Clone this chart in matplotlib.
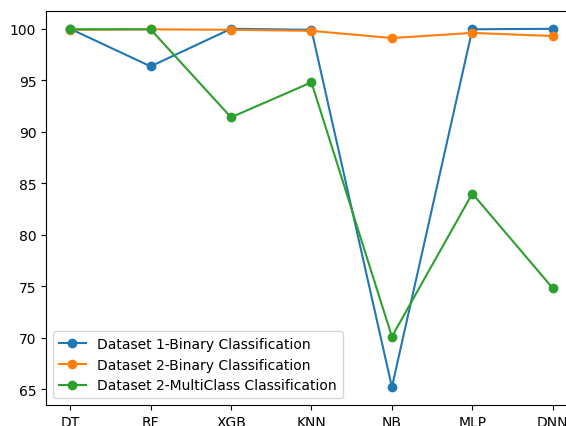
import matplotlib
matplotlib.use('Agg')
from matplotlib import pyplot as plt

models = ['DT', 'RF', 'XGB', 'KNN', 'NB', 'MLP', 'DNN']
ds1_binary = [100.0, 96.35, 100.0, 99.9, 65.2, 99.95, 100.0]
ds2_binary = [99.9, 99.95, 99.9, 99.8, 99.1, 99.6, 99.3]
ds2_multi = [99.95, 99.95, 91.4, 94.8, 70.1, 84.0, 74.8]

fig = plt.figure(figsize=(5.66, 4.27), dpi=100)
ax = fig.add_axes([0.0813, 0.0492, 0.938, 0.923])

ax.plot(models, ds1_binary, marker='o', label='Dataset 1-Binary Classification')
ax.plot(models, ds2_binary, marker='o', label='Dataset 2-Binary Classification')
ax.plot(models, ds2_multi, marker='o', label='Dataset 2-MultiClass Classification')

# the reference is cropped: only the descenders of the title show
ax.set_title('Accuracy Scores of Algorithms', pad=11.5)
ax.legend(loc='lower left')

fig.savefig('out.png', dpi=100)
